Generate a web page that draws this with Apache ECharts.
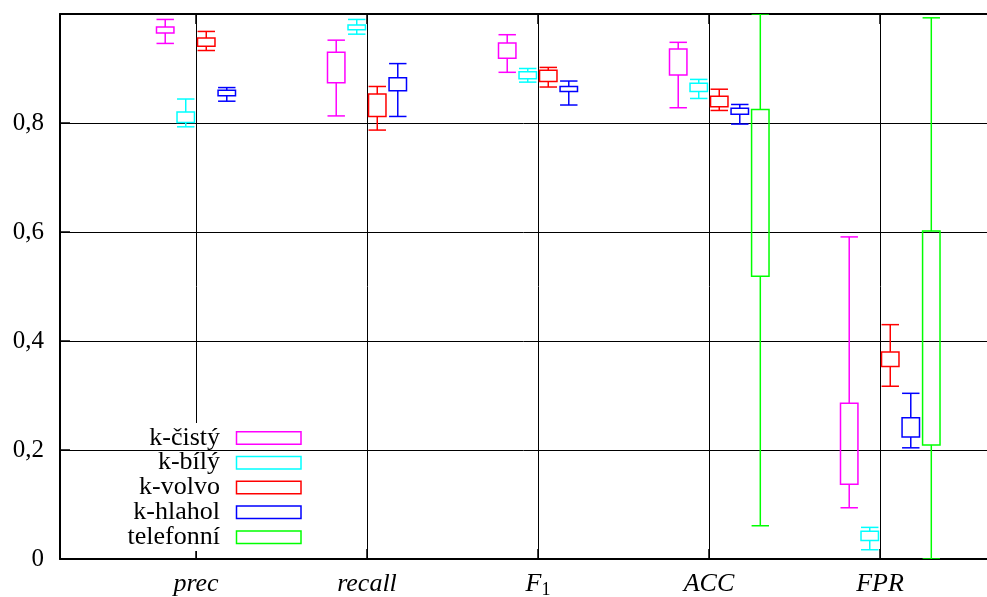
<!DOCTYPE html>
<html>
<head>
<meta charset="utf-8">
<script src="https://cdn.jsdelivr.net/npm/echarts@6/dist/echarts.min.js"></script>
<style>html,body{margin:0;padding:0;background:#fff}#c{width:987px;height:597px}</style>
</head>
<body>
<div id="c"></div>
<script>
// ---- data ----
const categories = ['prec', 'recall', 'F1', 'ACC', 'FPR'];
const seriesNames = ['k-čistý', 'k-bílý', 'k-volvo', 'k-hlahol', 'telefonní'];
const yTickLabels = ['0', '0,2', '0,4', '0,6', '0,8', ''];
// each entry: [min, q1, q3, max] per category (null = not drawn)
const kCisty = [[0.946, 0.965, 0.976, 0.990], [0.813, 0.874, 0.930, 0.952], [0.893, 0.919, 0.947, 0.962], [0.828, 0.888, 0.936, 0.948], [0.094, 0.137, 0.286, 0.591]];
const kBily = [[0.793, 0.801, 0.820, 0.844], [0.963, 0.971, 0.980, 0.990], [0.875, 0.881, 0.894, 0.900], [0.845, 0.858, 0.873, 0.880], [0.017, 0.034, 0.051, 0.058]];
const kVolvo = [[0.933, 0.941, 0.956, 0.968], [0.787, 0.812, 0.853, 0.867], [0.866, 0.876, 0.897, 0.902], [0.823, 0.830, 0.849, 0.862], [0.317, 0.353, 0.380, 0.430]];
const kHlahol = [[0.840, 0.850, 0.860, 0.865], [0.812, 0.859, 0.883, 0.909], [0.833, 0.858, 0.867, 0.877], [0.798, 0.816, 0.827, 0.834], [0.204, 0.224, 0.259, 0.304]];
const telefonni = [null, null, null, [0.061, 0.519, 0.825, 1.0], [0.0, 0.209, 0.602, 0.993]];

// ---- style ----
const allStats = [kCisty, kBily, kVolvo, kHlahol, telefonni];
const colors = ['#ff00ff', '#00ffff', '#ff0000', '#0000ff', '#00ff00'];
const offsets = [-0.18, -0.06, 0.06, 0.18, 0.30];
const boxWidth = 0.102;
const FONT = 'Liberation Serif';
const xMin = 1 - 136 / 171;
const xMax = 5 + 107 / 171;

const chart = echarts.init(document.getElementById('c'), null, { renderer: 'canvas' });

function renderBox(params, api) {
  const x = api.value(0);
  const mn = api.value(1), q1 = api.value(2), q3 = api.value(3), mx = api.value(4);
  const color = api.visual('color');
  const half = api.size([boxWidth, 0])[0] / 2;
  const pMin = api.coord([x, mn]);
  const pQ1 = api.coord([x, q1]);
  const pQ3 = api.coord([x, q3]);
  const pMax = api.coord([x, mx]);
  const cx = pMin[0];
  const st = { stroke: color, fill: null, lineWidth: 1.5 };
  return {
    type: 'group',
    children: [
      { type: 'rect', shape: { x: cx - half, y: pQ3[1], width: 2 * half, height: pQ1[1] - pQ3[1] }, style: st },
      { type: 'line', shape: { x1: cx, y1: pQ3[1], x2: cx, y2: pMax[1] }, style: st },
      { type: 'line', shape: { x1: cx - half, y1: pMax[1], x2: cx + half, y2: pMax[1] }, style: st },
      { type: 'line', shape: { x1: cx, y1: pQ1[1], x2: cx, y2: pMin[1] }, style: st },
      { type: 'line', shape: { x1: cx - half, y1: pMin[1], x2: cx + half, y2: pMin[1] }, style: st }
    ]
  };
}

const series = seriesNames.map((name, s) => ({
  name: name,
  type: 'custom',
  z: 5,
  clip: true,
  itemStyle: { color: colors[s] },
  renderItem: renderBox,
  encode: { x: 0, y: [1, 2, 3, 4] },
  data: allStats[s].map((st, i) => st ? [i + 1 + offsets[s], st[0], st[1], st[2], st[3]] : null).filter(d => d)
}));

// legend drawn as graphic (text right-aligned, sample boxes to the right)
const legendEls = [{
  type: 'rect', z: 1, silent: true,
  shape: { x: 132, y: 423, width: 178, height: 128 },
  style: { fill: '#fff' }
}];
seriesNames.forEach((name, s) => {
  const cy = 437.7 + s * 24.8;
  legendEls.push({
    type: 'text', z: 10, x: 220, y: cy,
    style: { text: name, font: '26px "' + FONT + '"', fill: '#000', align: 'right', verticalAlign: 'middle' }
  });
  legendEls.push({
    type: 'rect', z: 10,
    shape: { x: 236.5, y: cy - 6, width: 64.5, height: 12.5 },
    style: { fill: null, stroke: colors[s], lineWidth: 1.5 }
  });
});

const tickVals = categories.map((c, i) => i + 1);

chart.setOption({
  animation: false,
  backgroundColor: '#fff',
  grid: { left: 60, top: 14, right: 0, bottom: 38, outerBoundsMode: 'none', containLabel: false },
  xAxis: [{
    type: 'value', min: xMin, max: xMax, position: 'bottom', z: 0,
    axisLine: { show: true, onZero: false, lineStyle: { color: '#000', width: 2 } },
    axisTick: { show: true, inside: true, length: 10, customValues: tickVals, lineStyle: { color: '#000', width: 1.5 } },
    axisLabel: {
      show: true, customValues: tickVals, margin: 10,
      formatter: v => {
        const c = categories[Math.round(v) - 1];
        if (c === 'F1') return '{it|F}{sub|1}';
        return '{it|' + c + '}';
      },
      rich: {
        it: { fontFamily: FONT, fontStyle: 'italic', fontSize: 26, color: '#000', lineHeight: 30 },
        sub: { fontFamily: FONT, fontSize: 18, color: '#000', lineHeight: 18, verticalAlign: 'bottom' }
      }
    },
    splitLine: { show: true, lineStyle: { color: '#000', width: 1 } }
  }, {
    type: 'value', min: xMin, max: xMax, position: 'top', z: 0,
    axisLine: { show: true, onZero: false, lineStyle: { color: '#000', width: 2 } },
    axisTick: { show: true, inside: true, length: 10, customValues: tickVals, lineStyle: { color: '#000', width: 1.5 } },
    axisLabel: { show: false },
    splitLine: { show: false }
  }],
  yAxis: {
    type: 'value', min: 0, max: 1, interval: 0.2, z: 3,
    axisLine: { show: true, lineStyle: { color: '#000', width: 2 } },
    axisTick: { show: true, inside: true, length: 10, lineStyle: { color: '#000', width: 1.5 } },
    axisLabel: {
      margin: 16, fontFamily: FONT, fontSize: 25, color: '#000',
      formatter: (v, i) => yTickLabels[Math.round(v / 0.2)]
    },
    splitLine: { show: true, lineStyle: { color: '#000', width: 1 } }
  },
  graphic: { elements: legendEls },
  series: series
});
</script>
</body>
</html>
